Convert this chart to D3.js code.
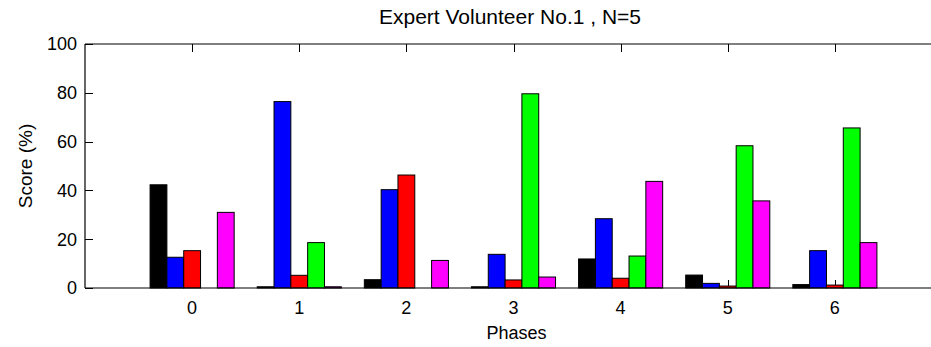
<!DOCTYPE html>
<html>
<head>
<meta charset="utf-8">
<script src="https://cdn.jsdelivr.net/npm/d3@7"></script>
<style>
  html, body { margin: 0; padding: 0; background: #fff; }
  svg { display: block; font-family: "Liberation Sans", Arial, Helvetica, sans-serif; }
</style>
</head>
<body>
<svg id="chart" width="931" height="347"></svg>
<script>
// Phases on the x axis and the five scored series per phase
const phases = [0, 1, 2, 3, 4, 5, 6];
const seriesColors = ["#000000", "#0000ff", "#ff0000", "#00ff00", "#ff00ff"];
const black   = [42.3, 0.5, 3.4, 0.5, 11.9, 5.3, 1.4];
const blue    = [12.6, 76.4, 40.3, 13.8, 28.4, 1.9, 15.3];
const red     = [15.3, 5.2, 46.3, 3.3, 4.0, 0.8, 1.2];
const green   = [0, 18.6, 0, 79.6, 13.1, 58.3, 65.6];
const magenta = [31.0, 0.5, 11.3, 4.5, 43.7, 35.7, 18.6];
const seriesValues = [black, blue, red, green, magenta];
const yTicks = [0, 20, 40, 60, 80, 100];
const title = "Expert Volunteer No.1 , N=5";
const xLabel = "Phases";
const yLabel = "Score (%)";

(function draw() {
  const svg = d3.select("#chart");
  const mLeft = 85, mRight = 942, mTop = 44, mBottom = 288;

  const x = d3.scaleLinear().domain([-1, 7]).range([mLeft, mRight]);
  const y = d3.scaleLinear().domain([0, 100]).range([mBottom, mTop]);

  const groupWidth = 0.785;
  const barW = groupWidth / seriesValues.length;
  const tickLen = 8;

  // tick marks sit underneath the bars
  const ticks = svg.append("g").attr("stroke", "#000").attr("stroke-width", 1);
  phases.forEach(p => {
    const px = Math.round(x(p)) + 0.5;
    ticks.append("line").attr("x1", px).attr("x2", px).attr("y1", mTop).attr("y2", mTop + tickLen);
    ticks.append("line").attr("x1", px).attr("x2", px).attr("y1", mBottom).attr("y2", mBottom - tickLen);
  });
  yTicks.forEach(t => {
    const py = Math.round(y(t)) + 0.5;
    ticks.append("line").attr("x1", mLeft).attr("x2", mLeft + tickLen).attr("y1", py).attr("y2", py);
  });

  // grouped bars
  seriesValues.forEach((vals, si) => {
    svg.append("g")
      .selectAll("rect")
      .data(vals.map((v, i) => ({ p: phases[i], v })))
      .join("rect")
      .attr("x", d => x(d.p + (si - 2.5) * barW))
      .attr("width", x(barW) - x(0))
      .attr("y", d => y(d.v))
      .attr("height", d => y(0) - y(d.v))
      .attr("fill", seriesColors[si])
      .attr("stroke", "#000")
      .attr("stroke-width", 1);
  });

  // axes box (left, top, bottom)
  const box = svg.append("g").attr("stroke", "#000").attr("stroke-width", 1.2).attr("fill", "none");
  box.append("line").attr("x1", mLeft).attr("x2", mRight).attr("y1", mTop).attr("y2", mTop);
  box.append("line").attr("x1", mLeft).attr("x2", mRight).attr("y1", mBottom).attr("y2", mBottom);
  box.append("line").attr("x1", mLeft).attr("x2", mLeft).attr("y1", mTop).attr("y2", mBottom);

  // tick labels
  const fs = 18;
  svg.append("g").selectAll("text").data(yTicks).join("text")
    .attr("x", mLeft - 8)
    .attr("y", d => y(d))
    .attr("dy", "0.36em")
    .attr("text-anchor", "end")
    .attr("font-size", fs)
    .text(d => d);

  svg.append("g").selectAll("text").data(phases).join("text")
    .attr("x", d => x(d))
    .attr("y", 314)
    .attr("text-anchor", "middle")
    .attr("font-size", fs)
    .text(d => d);

  svg.append("text")
    .attr("x", (mLeft + mRight) / 2 + 3)
    .attr("y", 339)
    .attr("text-anchor", "middle")
    .attr("font-size", fs)
    .text(xLabel);

  svg.append("text")
    .attr("transform", `translate(32,${(mTop + mBottom) / 2}) rotate(-90)`)
    .attr("text-anchor", "middle")
    .attr("font-size", 19)
    .text(yLabel);

  svg.append("text")
    .attr("x", 510)
    .attr("y", 24)
    .attr("text-anchor", "middle")
    .attr("font-size", 21)
    .text(title);
})();
</script>
</body>
</html>
